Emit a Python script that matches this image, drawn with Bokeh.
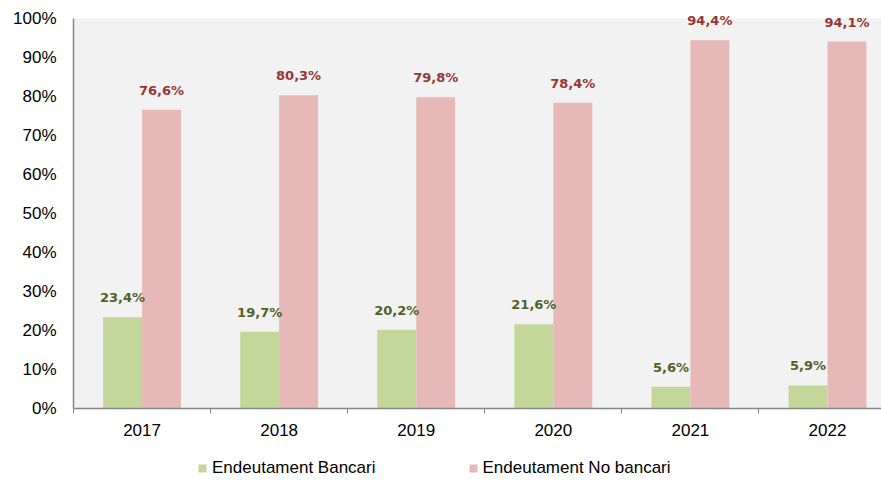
from bokeh.plotting import figure
from bokeh.layouts import column
from bokeh.models import (ColumnDataSource, FixedTicker, Legend, LegendItem, Range1d,
                          PrintfTickFormatter, BoxAnnotation)
from bokeh.core.properties import value
from bokeh.embed import file_html
from bokeh.resources import INLINE

years = ["2017", "2018", "2019", "2020", "2021", "2022"]
bancari = [23.4, 19.7, 20.2, 21.6, 5.6, 5.9]
no_bancari = [76.6, 80.3, 79.8, 78.4, 94.4, 94.1]
y_ticks = [0, 10, 20, 30, 40, 50, 60, 70, 80, 90, 100]
series_names = ["Endeutament Bancari", "Endeutament No bancari"]

GREEN = "#c4d79b"
PINK = "#e6b9b8"
GREEN_TXT = "#4f6228"
RED_TXT = "#953735"
PLOT_BG = "#f2f2f2"

centers = [i + 0.5 for i in range(len(years))]
bw = 0.284
y_max = 100

def fmt(v):
    return ("%.1f" % v).replace(".", ",") + "%"

src_b = ColumnDataSource(dict(x=[c - bw / 2 for c in centers], top=bancari,
                              lab=[fmt(v) for v in bancari]))
src_n = ColumnDataSource(dict(x=[c + bw / 2 for c in centers], top=no_bancari,
                              lab=[fmt(v) for v in no_bancari]))

p = figure(width=881, height=445, output_backend="svg", toolbar_location=None,
           x_range=Range1d(0, 5.894), y_range=Range1d(0, 104.1),
           min_border_left=73, min_border_right=0, min_border_top=2,
           min_border_bottom=37)
p.background_fill_color = "white"
p.border_fill_color = "white"
p.outline_line_color = None
p.xgrid.visible = False
p.ygrid.visible = False
p.add_layout(BoxAnnotation(bottom=0, top=y_max, fill_color=PLOT_BG, fill_alpha=1,
                           line_color=None, level="underlay"))

p.vbar(x="x", top="top", width=bw, source=src_b, fill_color=GREEN, line_color=None)
p.vbar(x="x", top="top", width=bw, source=src_n, fill_color=PINK, line_color=None)

p.text(x="x", y="top", text="lab", source=src_b, text_align="center",
       text_baseline="bottom", y_offset=-12, text_color=GREEN_TXT,
       text_font=value("DejaVu Sans"), text_font_style="bold", text_font_size="13px")
p.text(x="x", y="top", text="lab", source=src_n, text_align="center",
       text_baseline="bottom", y_offset=-12, text_color=RED_TXT,
       text_font=value("DejaVu Sans"), text_font_style="bold", text_font_size="13px")

# y axis
p.yaxis.ticker = FixedTicker(ticks=y_ticks)
p.yaxis.bounds = (0, y_max)
p.yaxis.formatter = PrintfTickFormatter(format="%d%%")
p.yaxis.major_tick_out = 0
p.yaxis.major_tick_in = 0
p.yaxis.minor_tick_out = 0
p.yaxis.minor_tick_in = 0
p.yaxis.major_label_standoff = 17
p.yaxis.axis_line_color = "#868686"
p.yaxis.axis_line_width = 1.5
p.yaxis.major_label_text_font = "Liberation Sans"
p.yaxis.major_label_text_font_size = "17px"
p.yaxis.major_label_text_color = "black"

# x axis
p.xaxis.ticker = FixedTicker(ticks=centers, minor_ticks=list(range(len(years) + 1)))
p.xaxis.major_label_overrides = {c: y for c, y in zip(centers, years)}
p.xaxis.major_tick_out = 0
p.xaxis.major_tick_in = 0
p.xaxis.minor_tick_out = 5
p.xaxis.minor_tick_in = 0
p.xaxis.minor_tick_line_color = "#868686"
p.xaxis.axis_line_color = "#868686"
p.xaxis.axis_line_width = 1.5
p.xaxis.major_label_standoff = 10
p.xaxis.major_label_text_font = "Liberation Sans"
p.xaxis.major_label_text_font_size = "17px"
p.xaxis.major_label_text_color = "black"

# legend strip: same series renderers, whose bars fall far outside this strip's ranges
lg = figure(width=881, height=35, output_backend="svg", toolbar_location=None,
            x_range=Range1d(1000, 1001), y_range=Range1d(1000, 1001),
            x_axis_type=None, y_axis_type=None,
            min_border_left=0, min_border_right=0, min_border_top=0, min_border_bottom=0)
lg.outline_line_color = None
lg.xgrid.visible = False
lg.ygrid.visible = False
lr1 = lg.vbar(x="x", top="top", width=bw, source=src_b, fill_color=GREEN, line_color=None)
lr2 = lg.vbar(x="x", top="top", width=bw, source=src_n, fill_color=PINK, line_color=None)
legend = Legend(items=[LegendItem(label=series_names[0], renderers=[lr1]),
                       LegendItem(label=series_names[1], renderers=[lr2])],
                orientation="horizontal", location=(124, 2),
                glyph_width=10, glyph_height=10, label_height=16,
                label_standoff=5, spacing=92,
                padding=0, margin=0, border_line_color=None,
                background_fill_alpha=0,
                label_text_font="Liberation Sans", label_text_font_size="17px",
                label_text_color="black")
lg.add_layout(legend, "center")

layout = column(p, lg, spacing=0)
open("out.html", "w").write(file_html(layout, INLINE))
